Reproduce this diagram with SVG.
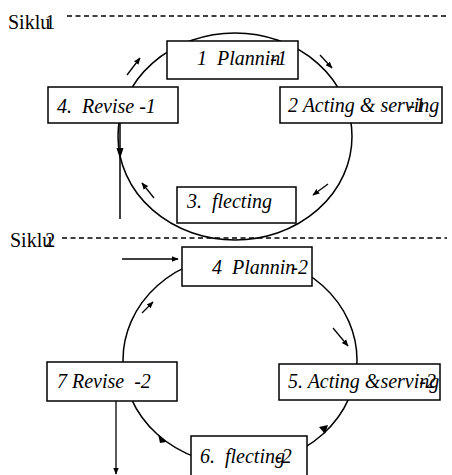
<svg xmlns="http://www.w3.org/2000/svg" width="452" height="475" viewBox="0 0 452 475">
<style>
.box{fill:#fff;stroke:#000;stroke-width:1.5}
.lbl{font-family:"Liberation Serif","DejaVu Serif",serif;font-style:italic;font-size:20px;fill:#000}
.sk{font-family:"Liberation Serif","DejaVu Serif",serif;font-size:20px;fill:#000}
.dash{stroke:#000;stroke-width:1.3;stroke-dasharray:5 3.5;fill:none}
.ln{stroke:#000;stroke-width:1.5;fill:none}
.ar{stroke:#000;stroke-width:1.3;fill:none;marker-end:url(#ah)}
</style>
<defs>
<marker id="ah" viewBox="0 0 10 10" refX="9" refY="5" markerWidth="7" markerHeight="7" markerUnits="userSpaceOnUse" orient="auto">
<path d="M0,1 L10,5 L0,9 Z" fill="#000"/>
</marker>
</defs>
<rect width="452" height="475" fill="#fff"/>
<g id="connectors">
<line class="dash" x1="67" y1="16" x2="447" y2="16"/>
<line class="dash" x1="62" y1="238" x2="447" y2="238"/>
<ellipse class="ln" cx="235" cy="136.5" rx="117" ry="103.5"/>
<ellipse class="ln" cx="240" cy="360" rx="117" ry="105"/>
<line class="ar" x1="127" y1="75" x2="140" y2="58"/>
<line class="ar" x1="320" y1="55" x2="332" y2="68"/>
<line class="ar" x1="328" y1="184" x2="313" y2="195"/>
<line class="ar" x1="154" y1="198" x2="142" y2="183"/>
<line class="ln" x1="120" y1="100" x2="120" y2="219"/>
<path d="M116.5,148 L120,159 L123.5,148 Z" fill="#000"/>
<line class="ar" x1="122" y1="259" x2="178" y2="259"/>
<line class="ar" x1="142" y1="313" x2="153" y2="302"/>
<line class="ar" x1="333" y1="328" x2="348" y2="346"/>
<path d="M319,427 L325,434 L328,425 Z" fill="#000"/>
<path d="M166,442 L158,434 L160,443 Z" fill="#000"/>
<line class="ar" x1="116" y1="401" x2="116" y2="474"/>
</g>
<g id="siklu1"><text class="sk" x="8" y="29">Siklu<tspan dx="-5">1</tspan></text></g>
<g id="siklu2"><text class="sk" x="10" y="247">Siklu<tspan dx="-7">2</tspan></text></g>
<g id="n1"><rect class="box" x="167" y="41" width="131" height="38"/><text class="lbl" x="197" y="65" xml:space="preserve">1  Plannin<tspan dx="-10">-1</tspan></text></g>
<g id="n2"><rect class="box" x="280" y="87" width="162" height="36"/><text class="lbl" x="288" y="112">2 Acting &amp; serving<tspan dx="-31">-1</tspan></text></g>
<g id="n3"><rect class="box" x="177" y="187" width="119" height="36"/><text class="lbl" x="187" y="208" xml:space="preserve">3.  flecting</text></g>
<g id="n4"><rect class="box" x="48" y="87" width="130" height="36"/><text class="lbl" x="57" y="113" xml:space="preserve">4.  Revise -1</text></g>
<g id="n5"><rect class="box" x="182" y="247" width="130" height="39"/><text class="lbl" x="212" y="274" xml:space="preserve">4  Plannin<tspan dx="-4">-2</tspan></text></g>
<g id="n6"><rect class="box" x="279" y="364" width="161" height="36"/><text class="lbl" x="288" y="388">5. Acting &amp;serving<tspan dx="-20">-2</tspan></text></g>
<g id="n7"><rect class="box" x="191" y="436" width="116" height="45"/><text class="lbl" x="200" y="463" xml:space="preserve">6.  flecting<tspan dx="-10">-2</tspan></text></g>
<g id="n8"><rect class="box" x="47" y="362" width="130" height="39"/><text class="lbl" x="57" y="388" xml:space="preserve">7 Revise  -2</text></g>
</svg>
